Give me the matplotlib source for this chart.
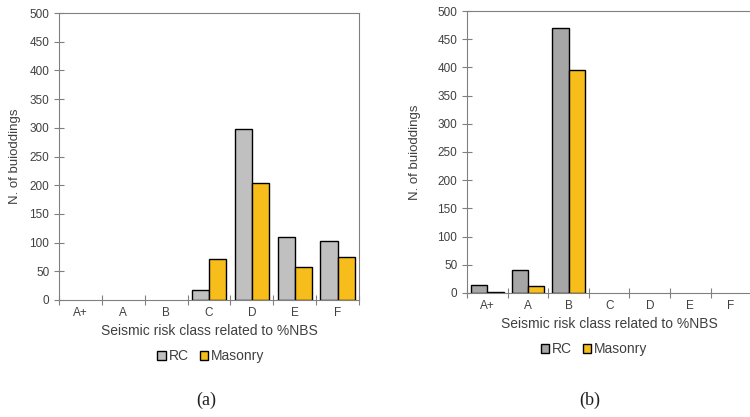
import numpy as np
import matplotlib.pyplot as plt

plt.rcParams['font.family'] = ['Liberation Sans', 'DejaVu Sans']

classes = ["A+", "A", "B", "C", "D", "E", "F"]
rc_a = [0, 0, 0, 17, 298, 110, 102]
mas_a = [0, 0, 0, 72, 203, 57, 75]
rc_b = [15, 40, 470, 0, 0, 0, 0]
mas_b = [2, 13, 396, 0, 0, 0, 0]

txt = "#404040"
spine = "#808080"
yellow = "#f7bd1b"

fig = plt.figure(figsize=(7.5, 4.17), dpi=100)
ax1 = fig.add_axes([0.0787, 0.2806, 0.4, 0.6882])
ax2 = fig.add_axes([0.6227, 0.2974, 0.379, 0.6762])


def draw(ax, rc, mas, rc_color, cap, leg_xy, cap_xy, ylab_x):
    x = np.arange(len(classes))
    w = 0.4
    # empty classes are not drawn at all
    rc = np.where(np.array(rc) > 0, rc, np.nan)
    mas = np.where(np.array(mas) > 0, mas, np.nan)
    ax.bar(x - w / 2, rc, w, color=rc_color, edgecolor="black", linewidth=1, label="RC")
    ax.bar(x + w / 2, mas, w, color=yellow, edgecolor="black", linewidth=1, label="Masonry")
    ax.set_xlim(-0.5, len(classes) - 0.5)
    ax.set_ylim(0, 500)
    ax.set_yticks(range(0, 501, 50))
    ax.set_xticks(np.arange(-0.5, len(classes), 1))
    ax.set_xticklabels([])
    ax.set_xticks(x, minor=True)
    ax.set_xticklabels(classes, minor=True)
    ax.tick_params(axis="x", which="major", direction="inout", length=7, color=spine)
    ax.tick_params(axis="x", which="minor", length=0, labelsize=8.5, labelcolor=txt, pad=5)
    ax.tick_params(axis="y", direction="inout", length=7, color=spine, labelsize=8.5, labelcolor=txt)
    for s in ax.spines.values():
        s.set_color(spine)
    ax.set_ylabel("N. of buioddings", color=txt, fontsize=9.5)
    ax.yaxis.set_label_coords(ylab_x, 0.5)
    ax.set_xlabel("Seismic risk class related to %NBS", color=txt, fontsize=10, labelpad=4)
    leg = fig.legend(handles=ax.containers, labels=["RC", "Masonry"], loc="center",
                     bbox_to_anchor=leg_xy, ncol=2, frameon=False,
                     handlelength=0.6, handleheight=0.6, handletextpad=0.2, columnspacing=0.8,
                     fontsize=10)
    for t in leg.get_texts():
        t.set_color(txt)
    fig.text(cap_xy[0], cap_xy[1], cap, ha="center", va="center",
             fontsize=13, family=["Liberation Serif", "DejaVu Serif"], color="#202020")


draw(ax1, rc_a, mas_a, "#c0c0c0", "(a)", (0.281, 0.146), (0.275, 0.040), -0.128)
draw(ax2, rc_b, mas_b, "#a6a6a6", "(b)", (0.792, 0.163), (0.787, 0.040), -0.162)
ax2.spines["right"].set_visible(False)

fig.savefig("out.png", dpi=100)
